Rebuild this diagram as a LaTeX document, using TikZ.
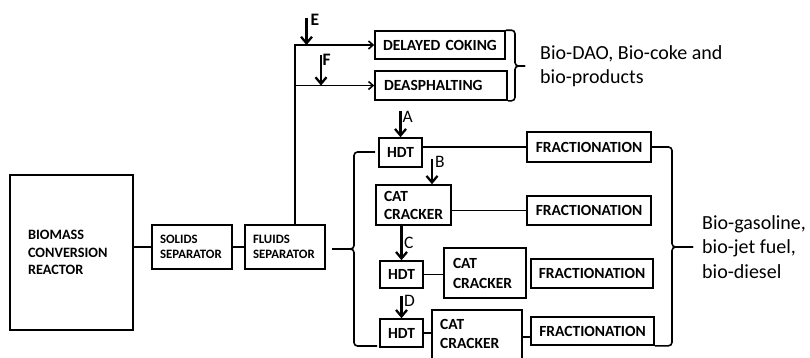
\documentclass[tikz,border=0pt]{standalone}
\usepackage{fontspec}
\setmainfont{Carlito}
\usetikzlibrary{arrows.meta}
\begin{document}
\begin{tikzpicture}[x=1pt,y=-1pt,
 box/.style={draw, line width=1.6pt, inner sep=0pt, align=left, font=\bfseries\fontsize{15.5}{18}\selectfont},
 ln/.style={line width=1.6pt},
 feed/.style={line width=2.3pt, -{Straight Barb[length=6.5pt,width=11pt,line width=2.3pt]}},
 flow/.style={line width=1.6pt, -{Straight Barb[length=4.5pt,width=8pt]}},
 lab/.style={font=\fontsize{17.5}{17.5}\selectfont, inner sep=0pt, anchor=west},
 outtext/.style={font=\fontsize{20}{24.5}\selectfont, inner sep=0pt, anchor=west, align=left},
 brace/.style={line width=1.6pt, rounded corners=3.5pt}]
\useasboundingbox (0,0) rectangle (810,357);
\clip (0,0) rectangle (810,357);
\fill[white] (0,0) rectangle (810,357);
% boxes
\node[box, minimum width=123pt, minimum height=155pt, text width=87pt, font=\bfseries\fontsize{14.3}{17.5}\selectfont] (bio) at (71.5,252.5) {BIOMASS\\CONVERSION\\REACTOR};
\node[box, minimum width=80pt, minimum height=44pt, text width=64pt, font=\bfseries\fontsize{12.8}{15.5}\selectfont] (sol) at (192,247) {SOLIDS\\SEPARATOR};
\node[box, minimum width=80pt, minimum height=44pt, text width=64pt, font=\bfseries\fontsize{12.8}{15.5}\selectfont] (flu) at (285,247) {FLUIDS\\SEPARATOR};
\node[box, minimum width=130pt, minimum height=28pt, text width=114pt] (dc) at (440,45) {DELAYED COKING};
\node[box, minimum width=132pt, minimum height=29pt, text width=114pt] (da) at (441,85.5) {DEASPHALTING};
\node[box, minimum width=43pt, minimum height=29pt] (h1) at (400.5,152.5) {HDT};
\node[box, minimum width=124pt, minimum height=30pt] (f1) at (589,147) {FRACTIONATION};
\node[box, minimum width=75pt, minimum height=40pt, text width=59pt] (c1) at (413.5,205) {CAT\\CRACKER};
\node[box, minimum width=124pt, minimum height=29pt] (f2) at (589,210.5) {FRACTIONATION};
\node[box, minimum width=43pt, minimum height=27pt] (h2) at (401.5,274.5) {HDT};
\node[box, minimum width=82pt, minimum height=50pt, text width=64pt, font=\bfseries\fontsize{15.5}{20}\selectfont] (c2) at (485,273) {CAT\\CRACKER};
\node[box, minimum width=122pt, minimum height=29pt] (f3) at (592,273.5) {FRACTIONATION};
\node[box, minimum width=43pt, minimum height=28pt] (h3) at (401.5,333) {HDT};
\node[box, minimum width=90pt, minimum height=64pt] (c3) at (477,342) {};
\node[font=\bfseries\fontsize{15.5}{19}\selectfont, align=left, inner sep=0pt, anchor=west] (c3t) at (440,333.5) {CAT\\CRACKER};
\node[box, minimum width=123pt, minimum height=28pt] (f4) at (592.5,331) {FRACTIONATION};
% connectors
\draw[ln] (bio.east |- sol.west) -- (sol.west);
\draw[ln] (sol.east) -- (flu.west);
\coordinate (up) at ([xshift=10pt]flu.north);
\draw[flow] (up) |- (dc.west);
\draw[flow] (up |- da.west) -- (da.west);
\draw[ln] (h1.east |- f1.west) -- (f1.west);
\draw[ln] (c1.east |- f2.west) -- (f2.west);
\draw[ln] (h2.east) -- (h2.east -| c2.west);
\draw[ln] (h3.east) -- (h3.east -| c3.west);
\coordinate (c3o) at ([yshift=-6pt]f4.west);
\draw[ln] (c3.east |- c3o) -- (c3o);
% feed arrows
\coordinate (eS) at (306.5,18);
\draw[feed] (eS) -- (eS |- dc.west);
\node[lab, font=\bfseries\fontsize{17.5}{17.5}\selectfont] (eL) at (310.5,19.5) {E};
\coordinate (fS) at (321,55);
\draw[feed] (fS) -- (fS |- da.west);
\node[lab, font=\bfseries\fontsize{17.5}{17.5}\selectfont] (fL) at (322.5,59.5) {F};
\coordinate (aS) at (400.5,111);
\draw[feed] (aS) -- (h1.north);
\node[lab] (aL) at (402.5,116.5) {A};
\coordinate (bS) at (432,159);
\draw[feed] (bS) -- (bS |- c1.north);
\node[lab] (bL) at (435,162) {B};
\draw[feed] (h2.north |- c1.south) -- (h2.north);
\node[lab] (cL) at (404,243) {C};
\coordinate (dS) at (401.5,296);
\draw[feed] (dS) -- (h3.north);
\node[lab] (dL) at (404,300.5) {D};
% braces
\draw[brace] (dc.north east) -| (515,66) -- (525,66);
\draw[brace] (525,66) -- (515,66) |- (da.south east);
\draw[brace] (375,152) -| (354,249) -- (332,249);
\draw[brace] (332,249) -- (354,249) |- (377,346);
\draw[brace] (f1.east) -| (672,247) -- (693,247);
\draw[brace] (693,247) -- (672,247) |- (f4.south east);
% outputs
\node[outtext] (o1) at (540,66) {Bio-DAO, Bio-coke and\\bio-products};
\node[outtext] (o2) at (702,247) {Bio-gasoline,\\bio-jet fuel,\\bio-diesel};
\end{tikzpicture}
\end{document}
